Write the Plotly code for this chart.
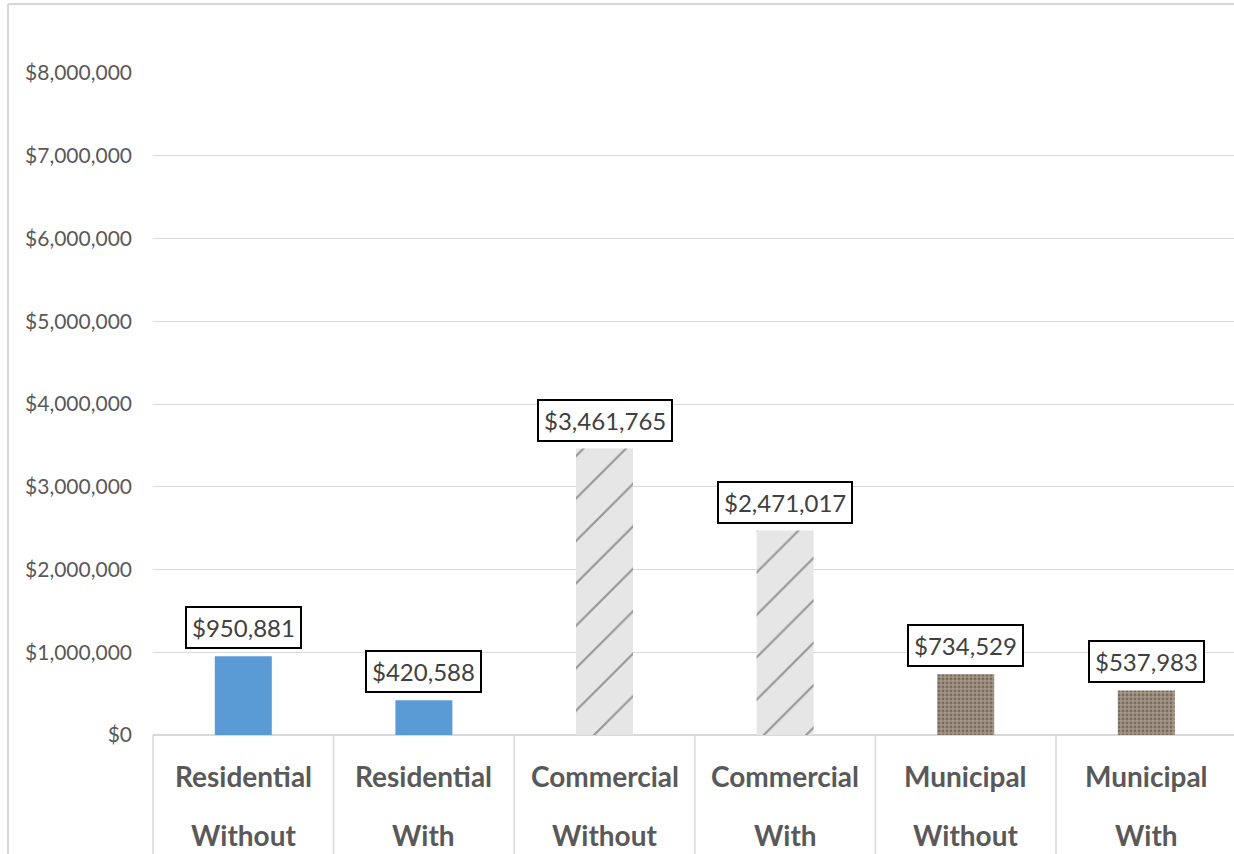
import plotly.graph_objects as go

# ---- data ----
groups = ["Residential", "Residential", "Commercial", "Commercial", "Municipal", "Municipal"]
variants = ["Without", "With", "Without", "With", "Without", "With"]
values = [950881, 420588, 3461765, 2471017, 734529, 537983]
y_ticks = [0, 1000000, 2000000, 3000000, 4000000, 5000000, 6000000, 7000000, 8000000]
y_tick_labels = ["$0", "$1,000,000", "$2,000,000", "$3,000,000", "$4,000,000",
                 "$5,000,000", "$6,000,000", "$7,000,000", "$8,000,000"]

# ---- styles ----
W, H = 1234, 854
ML, MR, MT, MB = 153, 0, 73, 119
plot_w = W - ML - MR
ph = H - MT - MB
cat_px = 180.6
x_hi = -0.5 + plot_w / cat_px

fill_colors = ["#5B9BD5", "#5B9BD5", "#E6E6E6", "#E6E6E6", "#A69685", "#A69685"]
pat_shapes = ["", "", "/", "/", ".", "."]
pat_fg = ["#5B9BD5", "#5B9BD5", "#CDCDCD", "#CDCDCD", "#6E5F53", "#6E5F53"]
pat_size = [8, 8, 30, 30, 4, 4]
pat_sol = [0.3, 0.3, 0.07, 0.07, 0.4, 0.4]

xs = list(range(len(values)))

fig = go.Figure()
fig.add_trace(go.Bar(
    x=xs, y=values,
    marker=dict(
        color=fill_colors,
        line=dict(width=0),
        pattern=dict(shape=pat_shapes, fgcolor=pat_fg,
                     size=pat_size, solidity=pat_sol, fillmode="overlay"),
    ),
    hoverinfo="skip",
    showlegend=False,
))

annotations = []
for i, v in enumerate(values):
    annotations.append(dict(
        x=i, y=v, xref="x", yref="y", yanchor="bottom", yshift=7,
        text="$" + f"{v:,}", showarrow=False,
        font=dict(family="Lato", size=24, color="#404040"),
        bgcolor="#FFFFFF", bordercolor="#000000", borderwidth=2, borderpad=5,
    ))
    annotations.append(dict(
        x=i, y=0, xref="x", yref="paper", yanchor="middle", yshift=-41,
        text="<b>" + groups[i] + "</b>", showarrow=False,
        font=dict(family="Lato", size=28, color="#595959"),
    ))
    annotations.append(dict(
        x=i, y=0, xref="x", yref="paper", yanchor="middle", yshift=-100,
        text="<b>" + variants[i] + "</b>", showarrow=False,
        font=dict(family="Lato", size=28, color="#595959"),
    ))

shapes = []
# category separators below axis
for k in range(len(values) + 1):
    xp = k / (x_hi + 0.5)
    if xp <= 1.0:
        shapes.append(dict(type="line", xref="paper", yref="paper",
                           x0=xp, x1=xp, y0=0, y1=-MB / ph - 0.02,
                           line=dict(color="#D9D9D9", width=1.5)))
# chart-area border (left and top)
shapes.append(dict(type="line", xref="paper", yref="paper",
                   x0=(8 - ML) / plot_w, x1=(8 - ML) / plot_w,
                   y0=(H - MB - 4) / ph, y1=-MB / ph - 0.02,
                   line=dict(color="#D6D6D6", width=2)))
shapes.append(dict(type="line", xref="paper", yref="paper",
                   x0=(8 - ML) / plot_w, x1=1.01,
                   y0=(H - MB - 4) / ph, y1=(H - MB - 4) / ph,
                   line=dict(color="#D6D6D6", width=2)))

fig.update_layout(
    width=W, height=H,
    margin=dict(l=ML, r=MR, t=MT, b=MB, pad=0),
    paper_bgcolor="#FFFFFF", plot_bgcolor="#FFFFFF",
    bargap=1 - 57 / cat_px,
    annotations=annotations,
    shapes=shapes,
    xaxis=dict(range=[-0.5, x_hi], showticklabels=False, showgrid=False,
               zeroline=False, showline=False, ticks="", fixedrange=True),
    yaxis=dict(range=[0, 8000000], tickvals=y_ticks, ticktext=y_tick_labels,
               showgrid=True, gridcolor="#D9D9D9", gridwidth=1,
               zeroline=True, zerolinecolor="#D9D9D9", zerolinewidth=1.5,
               showline=False, ticks="", ticklabelstandoff=20,
               tickfont=dict(family="Lato", size=21, color="#595959"),
               fixedrange=True),
    font=dict(family="Lato"),
)

fig.write_html("out.html", config={"displayModeBar": False})
